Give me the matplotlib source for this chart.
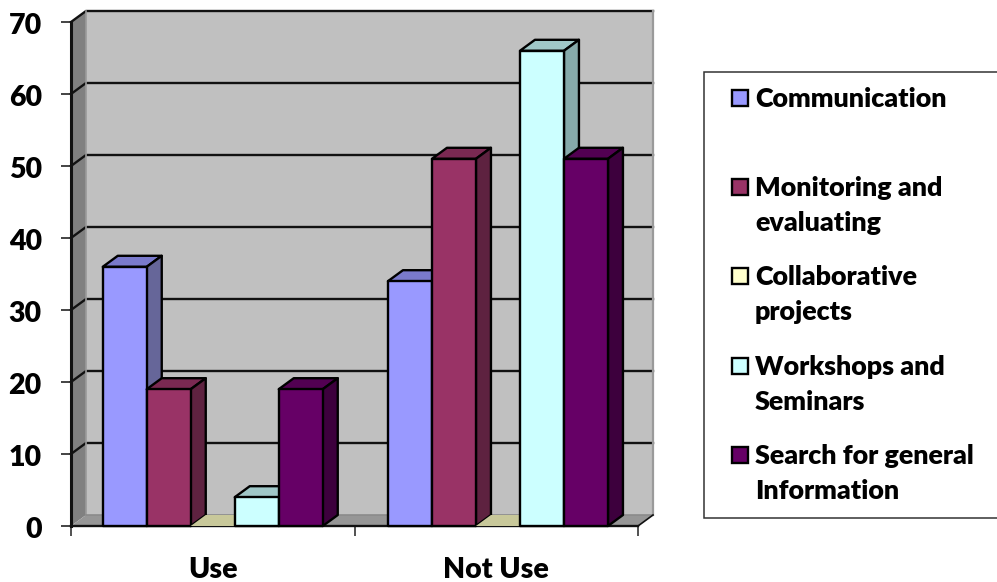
import matplotlib
matplotlib.use('Agg')
import matplotlib.pyplot as plt
from matplotlib.patches import Polygon, Rectangle
from matplotlib.transforms import ScaledTranslation

plt.rcParams['font.family'] = ['Lato', 'DejaVu Sans']
plt.rcParams['font.weight'] = 'heavy'

W, H = 997, 582

categories = ['Use', 'Not Use']
series = ['Communication', 'Monitoring and\nevaluating', 'Collaborative\nprojects',
          'Workshops and\nSeminars', 'Search for general\nInformation']
use_values = [36, 19, 0, 4, 19]
not_use_values = [34, 51, 0, 66, 51]
y_ticks = [0, 10, 20, 30, 40, 50, 60, 70]

face_colors = ['#9999FF', '#993366', '#FFFFCC', '#CCFFFF', '#660066']
top_colors = ['#7A7ACC', '#7A2952', '#C8C89A', '#A0C8C8', '#520052']
side_colors = ['#666699', '#5E2240', '#999977', '#86AAAA', '#3D003D']

fig = plt.figure(figsize=(W / 100, H / 100), dpi=100)


def fx(x):
    return x / W


def fy(y):
    return 1 - y / H


ax = fig.add_axes([fx(71), fy(526), fx(638) - fx(71), fy(22) - fy(526)])
ax.set_xlim(-0.5, 1.5)
ax.set_ylim(0, 70)
ax.patch.set_visible(False)
for s in ax.spines.values():
    s.set_visible(False)

# depth of the fake 3D box, in data units
DX = 15 / 283.5
DY = 11 / 7.2
BAR_W = 44 / 283.5
GROUP_SHIFT = [0, 0.006]


def poly(pts, color, z, ec='black', lw=1.7):
    ax.add_patch(Polygon(pts, closed=True, facecolor=color, edgecolor=ec, linewidth=lw,
                         joinstyle='round', zorder=z, clip_on=False))


# walls and floor
x0, x1 = -0.5, 1.5
poly([(x0 + DX, DY), (x1 + DX, DY), (x1 + DX, 70 + DY), (x0 + DX, 70 + DY)], '#C0C0C0', 1, ec='none')
poly([(x0, 0), (x0 + DX, DY), (x0 + DX, 70 + DY), (x0, 70)], '#808080', 1, ec='none')
poly([(x0, 0), (x1, 0), (x1 + DX, DY), (x0 + DX, DY)], '#969696', 1, ec='none')

for t in y_ticks[1:]:
    ax.plot([x0, x0 + DX, x1 + DX], [t, t + DY, t + DY], color='#111111', lw=1.7, zorder=2,
            clip_on=False, solid_joinstyle='miter')
ax.plot([x0 + DX, x0 + DX], [0 + DY, 70 + DY], color='#9A9A9A', lw=1.2, zorder=2, clip_on=False)
ax.plot([x1 + DX, x1 + DX], [0 + DY, 70 + DY], color='#9A9A9A', lw=1.6, zorder=2, clip_on=False)
ax.plot([x0 + DX, x1 + DX], [DY, DY], color='#8A8A8A', lw=1.2, zorder=2, clip_on=False)
ax.plot([x0, x1], [0, 0], color='#111111', lw=1.7, zorder=2, clip_on=False)
ax.plot([x1, x1 + DX], [0, DY], color='#111111', lw=1.2, zorder=2, clip_on=False)
ax.plot([x0, x0], [0, 70], color='#111111', lw=2.2, zorder=2, clip_on=False)

# bars, left to right so each one covers the side of the previous one
z = 3
for c, values in enumerate([use_values, not_use_values]):
    for i, v in enumerate(values):
        left = c + GROUP_SHIFT[c] + (i - 2.5) * BAR_W
        right = left + BAR_W
        poly([(left, v), (right, v), (right + DX, v + DY), (left + DX, v + DY)], top_colors[i], z,
             lw=0 if v == 0 else 1.7, ec='none' if v == 0 else 'black')
        if v > 0:
            poly([(right, 0), (right + DX, DY), (right + DX, v + DY), (right, v)], side_colors[i], z)
            poly([(left, 0), (right, 0), (right, v), (left, v)], face_colors[i], z + 0.5)
        z += 1

ax.set_xticks([-0.5, 0.5, 1.5])
ax.set_xticklabels([])
ax.set_yticks(y_ticks)
ax.set_yticklabels([str(t) for t in y_ticks], fontsize=20.5, fontweight='heavy')
ax.tick_params(axis='y', length=7, width=1.1, pad=14, color='#111111')
ax.tick_params(axis='x', length=7, width=1.1, color='#222222')
# nudge the value labels a little below their ticks
nudge = ScaledTranslation(0, -2 / 100, fig.dpi_scale_trans)
for lab in ax.get_yticklabels():
    lab.set_transform(lab.get_transform() + nudge)
for i, name in enumerate(categories):
    ax.text(i, -6.05, name, ha='center', va='center', fontsize=20.5, fontweight='heavy', clip_on=False)

# legend box runs off the right edge
fig.add_artist(Rectangle((fx(703.5), fy(517.5)), fx(320), fy(71.5) - fy(517.5), transform=fig.transFigure,
                         facecolor='white', edgecolor='#333333', linewidth=1.1))
legend_y = [98, 187, 276, 366, 455]
for name, ly, fc in zip(series, legend_y, face_colors):
    fig.add_artist(Rectangle((fx(732), fy(ly + 8)), 16 / W, 16 / H, transform=fig.transFigure,
                             facecolor=fc, edgecolor='black', linewidth=1.7))
    fig.text(fx(755), fy(ly - 11), name, ha='left', va='top', fontsize=19.4, fontweight='heavy',
             linespacing=1.56)

fig.savefig('out.png', dpi=100)
